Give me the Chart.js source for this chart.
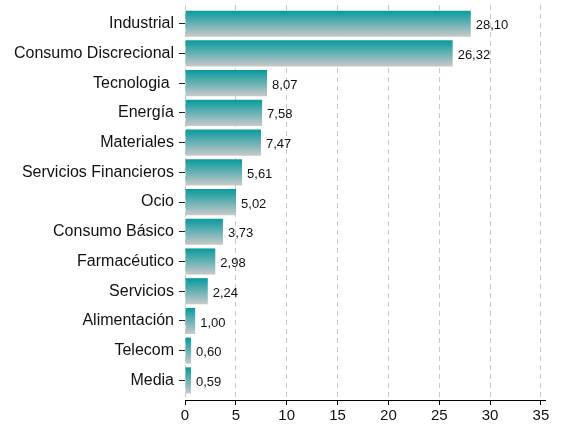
<!DOCTYPE html>
<html>
<head>
<meta charset="utf-8">
<script src="https://cdn.jsdelivr.net/npm/chart.js@4/dist/chart.umd.min.js"></script>
<style>
  html, body { margin: 0; padding: 0; background: #fff; }
  #wrap { width: 564px; height: 428px; position: relative; }
  canvas { display: block; }
</style>
</head>
<body>
<div id="wrap"><canvas id="c" width="564" height="428" style="width:564px;height:428px"></canvas></div>
<script>
const categories = ["Industrial", "Consumo Discrecional", "Tecnologia ", "Energía", "Materiales",
  "Servicios Financieros", "Ocio", "Consumo Básico", "Farmacéutico", "Servicios",
  "Alimentación", "Telecom", "Media"];
const values = [28.10, 26.32, 8.07, 7.58, 7.47, 5.61, 5.02, 3.73, 2.98, 2.24, 1.00, 0.60, 0.59];
const xTicks = [0, 5, 10, 15, 20, 25, 30, 35];

const FONT = "'Liberation Sans', Arial, sans-serif";
const BAR_FRACTION = 0.88;

function barGradient(context) {
  const chart = context.chart;
  const yScale = chart.scales.y;
  if (!chart.chartArea || !yScale || context.raw == null) return '#0a9a9e';
  const center = yScale.getPixelForValue(context.raw.y);
  const step = Math.abs(yScale.getPixelForValue(1) - yScale.getPixelForValue(0));
  const half = step * BAR_FRACTION / 2;
  const g = chart.ctx.createLinearGradient(0, center - half, 0, center + half);
  g.addColorStop(0, '#079a9e');
  g.addColorStop(1, '#c9c9c9');
  return g;
}

const valueLabels = {
  id: 'valueLabels',
  afterDatasetsDraw(chart) {
    const ctx = chart.ctx;
    const meta = chart.getDatasetMeta(0);
    ctx.save();
    ctx.font = '13px ' + FONT;
    ctx.fillStyle = '#111';
    ctx.textAlign = 'left';
    ctx.textBaseline = 'middle';
    meta.data.forEach((el, i) => {
      const txt = values[i].toFixed(2).replace('.', ',');
      ctx.fillText(txt, el.x + 5, el.y + 2);
    });
    ctx.restore();
  }
};

new Chart(document.getElementById('c'), {
  type: 'bar',
  data: {
    datasets: [{
      data: values.map((v, i) => ({ x: v, y: i })),
      backgroundColor: barGradient,
      borderWidth: 0,
      categoryPercentage: 1,
      barPercentage: BAR_FRACTION
    }]
  },
  plugins: [valueLabels],
  options: {
    indexAxis: 'y',
    responsive: false,
    maintainAspectRatio: false,
    animation: false,
    devicePixelRatio: 1,
    layout: { padding: { top: 5, right: 19, bottom: 0, left: 0 } },
    plugins: { legend: { display: false }, tooltip: { enabled: false } },
    scales: {
      x: {
        type: 'linear',
        min: 0,
        max: 35.4,
        offset: false,
        afterBuildTicks(scale) { scale.ticks = xTicks.map(v => ({ value: v })); },
        afterFit(scale) { scale.height = 28; scale.paddingLeft = 0; scale.paddingRight = 0; },
        border: { display: true, color: '#000', width: 1, dash: [5, 4] },
        grid: {
          color: '#c8c8c8',
          lineWidth: 1,
          offset: false,
          drawTicks: true,
          tickLength: 5,
          tickColor: '#000',
          tickBorderDash: [0]
        },
        ticks: {
          color: '#111',
          font: { family: FONT, size: 15 },
          padding: 2,
          maxRotation: 0,
          autoSkip: false
        }
      },
      y: {
        type: 'linear',
        reverse: true,
        min: -0.63,
        max: 12.66,
        offset: false,
        afterBuildTicks(scale) { scale.ticks = categories.map((_, i) => ({ value: i })); },
        afterFit(scale) { scale.width = 185; scale.paddingTop = 0; scale.paddingBottom = 0; },
        border: { display: false },
        grid: {
          offset: false,
          drawOnChartArea: false,
          drawTicks: true,
          tickLength: 6,
          tickColor: '#222',
          lineWidth: 1
        },
        ticks: {
          color: '#111',
          font: { family: FONT, size: 16 },
          padding: 5,
          autoSkip: false,
          callback: (v) => categories[v] !== undefined ? categories[v] : ''
        }
      }
    }
  }
});
</script>
</body>
</html>
